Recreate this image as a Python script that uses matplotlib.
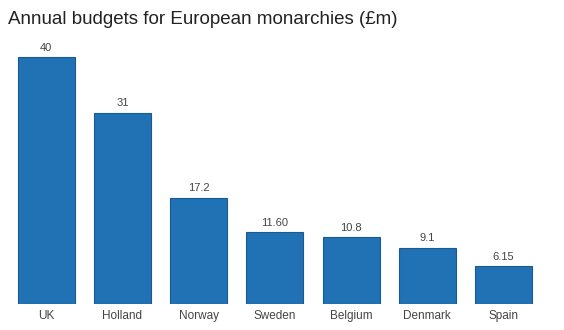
import matplotlib
matplotlib.use("Agg")
import matplotlib.pyplot as plt

countries = ["UK", "Holland", "Norway", "Sweden", "Belgium", "Denmark", "Spain"]
budgets = [40, 31, 17.2, 11.60, 10.8, 9.1, 6.15]
labels = ["40", "31", "17.2", "11.60", "10.8", "9.1", "6.15"]

plt.rcParams['font.family'] = ['Liberation Sans', 'DejaVu Sans']

W, H = 564, 330
fig = plt.figure(figsize=(W/100, H/100), dpi=100)
fig.patch.set_facecolor("white")

left_px, right_px = 8, 8 + 7 * 76.25
bottom_px = 304
ymax = 44
ppu = 247 / 40.0
top_px = bottom_px - ymax * ppu
ax = fig.add_axes([left_px / W, (H - bottom_px) / H, (right_px - left_px) / W, (bottom_px - top_px) / H])

x = list(range(len(countries)))
ax.bar(x, budgets, width=0.75, color="#2171b5", edgecolor="#1a5a91", linewidth=0.8)
for xi, v, lab in zip(x, budgets, labels):
    ax.text(xi, v + 0.7, lab, ha="center", va="bottom", fontsize=8, color="#444444")

ax.set_xlim(-0.5, 6.5)
ax.set_ylim(0, ymax)
ax.set_xticks(x)
ax.set_xticklabels(countries, fontsize=8.5, color="#444444")
ax.tick_params(axis="x", length=0, pad=4)
ax.set_yticks([])
for s in ax.spines.values():
    s.set_visible(False)

fig.text(8 / W, 1 - 19 / H, "Annual budgets for European monarchies (£m)", fontsize=13.5,
         color="#222222", ha="left", va="center")

fig.savefig("out.png", dpi=100, facecolor="white")
